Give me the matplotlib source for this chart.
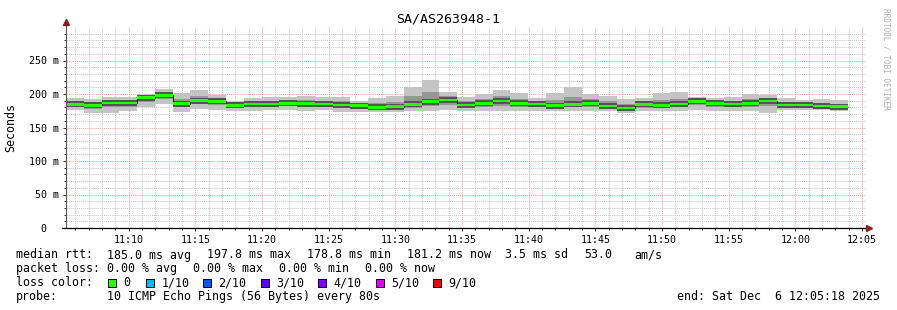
import numpy as np
import matplotlib
matplotlib.use("Agg")
import matplotlib.pyplot as plt
from matplotlib.patches import Rectangle

# ---------------- data ----------------
title = "SA/AS263948-1"
y_label = "Seconds"
start_minute = 11 * 60 + 5 + 18 / 60.0   # 11:05:18
step_minutes = 80 / 60.0                 # one probe round every 80 s
window_minutes = 60

median_ms = [184.6, 183.0, 186.5, 186.5, 194.5, 197.8, 185.5, 190.0, 189.0, 183.0,
             185.0, 185.0, 186.0, 185.5, 185.0, 183.6, 182.5, 180.0, 181.0, 184.6,
             188.5, 191.0, 183.6, 186.0, 189.5, 186.0, 185.0, 182.5, 184.6, 186.0,
             182.0, 179.0, 184.6, 183.0, 185.0, 189.0, 186.0, 185.0, 186.0, 189.5,
             183.6, 183.6, 182.0, 181.2]
max_ms = [194.0, 192.0, 196.0, 196.0, 200.0, 207.5, 201.0, 206.0, 199.0, 190.0,
          193.6, 196.0, 195.0, 197.5, 196.0, 196.0, 189.5, 194.5, 197.5, 211.0,
          221.0, 203.0, 196.0, 200.0, 206.0, 201.0, 193.6, 201.0, 210.0, 200.0,
          197.5, 192.0, 193.6, 201.0, 202.5, 196.0, 193.6, 196.0, 200.0, 198.5,
          193.6, 191.0, 192.0, 190.5]
min_ms = [176.0, 171.0, 172.0, 175.0, 180.0, 185.0, 173.6, 177.6, 176.0, 174.0,
          175.0, 176.0, 176.0, 175.0, 176.0, 173.6, 172.7, 172.7, 172.7, 174.0,
          174.6, 176.0, 174.0, 174.0, 174.0, 175.0, 175.0, 174.0, 175.0, 174.0,
          174.0, 172.0, 174.0, 174.0, 174.0, 176.0, 175.0, 174.0, 174.0, 172.0,
          176.0, 176.0, 176.0, 175.0]
upper_ms = [188.8, 187.0, 190.8, 190.8, 197.0, 202.2, 192.5, 197.2, 193.5, 186.2,
            188.9, 190.0, 190.0, 190.9, 190.0, 189.2, 185.7, 186.5, 188.4, 196.5,
            203.1, 196.4, 189.2, 192.3, 196.9, 192.8, 188.9, 190.8, 196.0, 192.3,
            189.0, 184.9, 188.6, 191.1, 192.9, 192.2, 189.4, 190.0, 192.3, 193.5,
            188.1, 186.9, 186.5, 185.4]
lower_ms = [180.7, 177.6, 180.0, 181.3, 188.0, 192.0, 180.1, 184.4, 183.2, 179.0,
            180.5, 181.0, 181.5, 180.8, 181.0, 179.1, 178.1, 176.7, 177.3, 179.8,
            182.2, 184.2, 179.3, 180.6, 182.5, 181.0, 180.5, 178.7, 180.3, 180.6,
            178.4, 175.9, 179.8, 179.0, 180.0, 183.2, 181.0, 180.0, 180.6, 181.6,
            180.2, 180.2, 179.3, 178.4]

x_tick_labels = ["11:10", "11:15", "11:20", "11:25", "11:30", "11:35",
                 "11:40", "11:45", "11:50", "11:55", "12:00", "12:05"]
x_tick_minutes = [11 * 60 + 10 + 5 * i for i in range(len(x_tick_labels))]
y_tick_values = [0, 50, 100, 150, 200, 250]
y_tick_labels = ["0  ", "50 m", "100 m", "150 m", "200 m", "250 m"]

rtt_label = "median rtt:"
rtt_fields = ["185.0 ms avg", "197.8 ms max", "178.8 ms min", "181.2 ms now",
              "3.5 ms sd", "53.0", "am/s"]
loss_label = "packet loss:"
loss_fields = ["0.00 % avg", "0.00 % max", "0.00 % min", "0.00 % now"]
color_label = "loss color:"
loss_names = ["0", "1/10", "2/10", "3/10", "4/10", "5/10", "9/10"]
loss_colors = ["#26ff00", "#00b8ff", "#0059ff", "#5e00ff", "#7e00ff", "#dd00ff", "#ff0000"]
probe_label = "probe:"
probe_text = "10 ICMP Echo Pings (56 Bytes) every 80s"
end_text = "end: Sat Dec  6 12:05:18 2025"
credit = "RRDTOOL / TOBI OETIKER"

# ---------------- layout ----------------
W, H = 897, 310
MONO = "DejaVu Sans Mono"
fig = plt.figure(figsize=(W / 100, H / 100), dpi=100)
fig.patch.set_facecolor("white")
ax = fig.add_axes([66 / W, 1 - 228 / H, 800 / W, 201 / H])
ax.set_facecolor("white")

def fpos(x, y):
    return x / W, 1 - y / H

x_end = start_minute + window_minutes
ax.set_xlim(start_minute, x_end)
ax.set_ylim(0, 300)

# grid
ax.set_xticks(x_tick_minutes)
ax.set_xticks(np.arange(11 * 60 + 6, x_end, 1.0), minor=True)
ax.set_yticks(y_tick_values)
ax.set_yticks([v for v in range(10, 300, 10) if v % 50], minor=True)
ax.grid(which="minor", color="#c4c4c4", linestyle=(0, (1, 1)), linewidth=0.75)
ax.grid(which="major", color="#f0a0a0", linestyle=(0, (1, 1)), linewidth=0.75)
ax.set_axisbelow(True)
for s in ax.spines.values():
    s.set_visible(False)

ax.set_xticklabels(x_tick_labels, fontsize=7.2, family=MONO)
ax.set_yticklabels(y_tick_labels, fontsize=7.2, family=MONO)
ax.tick_params(which="both", length=2, width=0.7, color="#333333", pad=3)
ax.tick_params(which="minor", length=1.5)

# smoke & median
n = len(median_ms)
edges = start_minute + step_minutes * np.arange(n + 1)
med = np.array(median_ms)
ax.stairs(max_ms, edges, baseline=min_ms, fill=True, color="#c4c4c4", zorder=2)
ax.stairs(upper_ms, edges, baseline=lower_ms, fill=True, color="#969696", zorder=3)
ax.stairs(med + 4.5, edges, baseline=med - 4.5, fill=True, color="#555555", zorder=4)
ax.stairs(med, edges, baseline=None, color="#202020", linewidth=0.75, zorder=5)
ax.stairs(med + 1.9, edges, baseline=med - 1.9, fill=True, color=loss_colors[0], zorder=6)

# axes lines with arrows
ax.plot([0, 0], [0, 1.02], transform=ax.transAxes, color="#555555", lw=0.8,
        clip_on=False, zorder=7)
ax.plot([-4 / 800, 1.0], [0, 0], transform=ax.transAxes, color="black", lw=0.9,
        clip_on=False, zorder=7)
ax.plot(0, 1.025, marker="^", ms=4.5, color="#8b1a1a", transform=ax.transAxes,
        clip_on=False, zorder=8)
ax.plot(1.004, 0, marker=">", ms=4.5, color="#8b1a1a", transform=ax.transAxes,
        clip_on=False, zorder=8)

# titles
fig.text(*fpos(448, 19), title, ha="center", va="center", fontsize=9.5, family=MONO)
fig.text(*fpos(11, 127), y_label, ha="center", va="center", rotation=90,
         fontsize=8.4, family=MONO)
fig.text(*fpos(886, 59), credit, ha="center", va="center", rotation=270,
         fontsize=5.6, family=MONO, color="#b0b0b0")

# legend lines
fs = 8.4
def t(x, y, s, **kw):
    fig.text(*fpos(x, y), s, ha="left", va="center", fontsize=fs, family=MONO, **kw)

t(16, 255, rtt_label)
for x, s in zip([107, 207, 307, 407, 505, 584, 634], rtt_fields):
    t(x, 255, s)
t(16, 268.5, loss_label)
for x, s in zip([107, 193, 279, 365], loss_fields):
    t(x, 268.5, s)
t(16, 282.5, color_label)
sq_x = [108, 146, 203, 261, 318, 376, 433]
for x, name, c in zip(sq_x, loss_names, loss_colors):
    fig.patches.append(Rectangle(fpos(x, 286.5), 7.5 / W, 7.5 / H, transform=fig.transFigure,
                                 facecolor=c, edgecolor="black", linewidth=0.7))
    t(x + 15.5, 282.5, name)
t(16, 296.5, probe_label)
t(107, 296.5, probe_text)
fig.text(*fpos(880, 296.5), end_text, ha="right", va="center", fontsize=fs, family=MONO)

fig.savefig("out.png", dpi=100)
